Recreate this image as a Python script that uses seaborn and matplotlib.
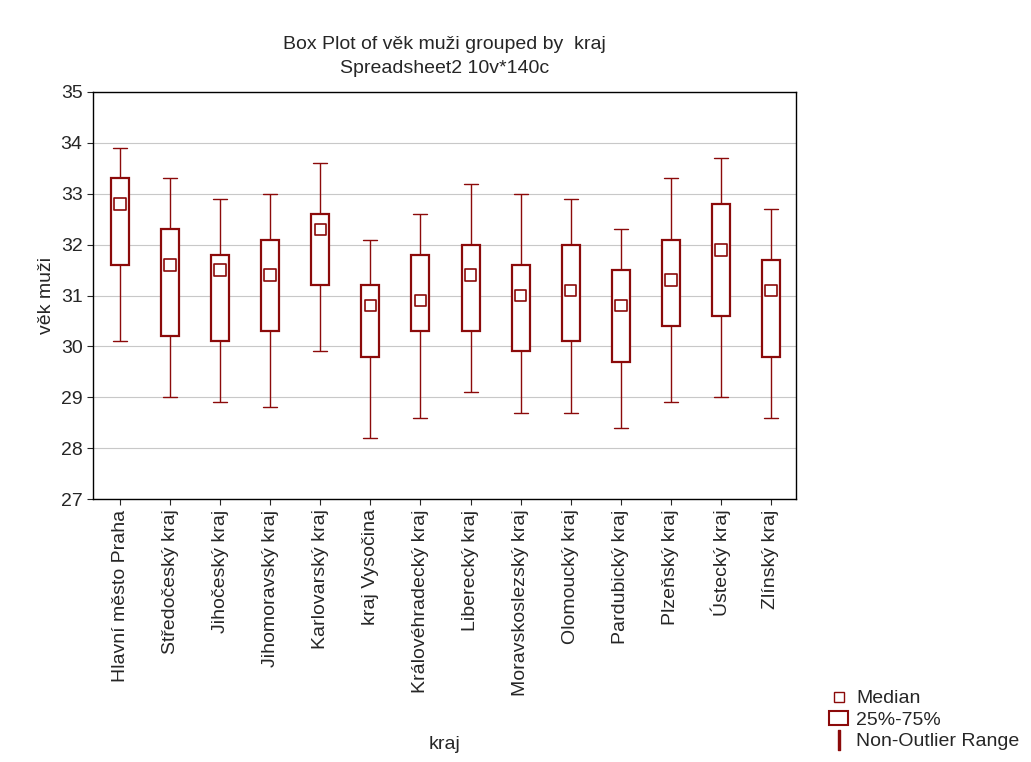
import numpy as np
import pandas as pd
import matplotlib
matplotlib.use("Agg")
import matplotlib.pyplot as plt
import seaborn as sns
from matplotlib.lines import Line2D
from matplotlib.patches import Rectangle

kraje = ["Hlavní město Praha", "Středočeský kraj", "Jihočeský kraj", "Jihomoravský kraj",
         "Karlovarský kraj", "kraj Vysočina", "Královéhradecký kraj", "Liberecký kraj",
         "Moravskoslezský kraj", "Olomoucký kraj", "Pardubický kraj", "Plzeňský kraj",
         "Ústecký kraj", "Zlínský kraj"]
minima = [30.1, 29.0, 28.9, 28.8, 29.9, 28.2, 28.6, 29.1, 28.7, 28.7, 28.4, 28.9, 29.0, 28.6]
q1 = [31.6, 30.2, 30.1, 30.3, 31.2, 29.8, 30.3, 30.3, 29.9, 30.1, 29.7, 30.4, 30.6, 29.8]
median = [32.8, 31.6, 31.5, 31.4, 32.3, 30.8, 30.9, 31.4, 31.0, 31.1, 30.8, 31.3, 31.9, 31.1]
q3 = [33.3, 32.3, 31.8, 32.1, 32.6, 31.2, 31.8, 32.0, 31.6, 32.0, 31.5, 32.1, 32.8, 31.7]
maxima = [33.9, 33.3, 32.9, 33.0, 33.6, 32.1, 32.6, 33.2, 33.0, 32.9, 32.3, 33.3, 33.7, 32.7]

# five points per kraj -> quartiles come out exactly as read
rows = []
for i, k in enumerate(kraje):
    for v in (minima[i], q1[i], median[i], q3[i], maxima[i]):
        rows.append({"kraj": k, "vek": v})
df = pd.DataFrame(rows)
dfm = pd.DataFrame({"kraj": kraje, "vek": median})

col = "#8b0a0a"
sns.set_style("white")
plt.rcParams["font.family"] = ["Liberation Sans", "DejaVu Sans"]

fig = plt.figure(figsize=(10.31, 7.62), dpi=100)
ax = fig.add_axes([93/1031, 1-499/762, (796-93)/1031, (499-92)/762])
sns.boxplot(data=df, x="kraj", y="vek", whis=(0, 100), width=0.36, ax=ax,
            color="white", linecolor=col, linewidth=1.6,
            medianprops={"visible": False},
            whiskerprops={"linewidth": 1}, capprops={"linewidth": 1})
# widen caps a bit
for ln in ax.lines:
    y = ln.get_ydata()
    x = ln.get_xdata()
    if len(y) == 2 and y[0] == y[1] and len(x) == 2:
        c = (x[0] + x[1]) / 2
        ln.set_xdata([c - 0.14, c + 0.14])
sns.scatterplot(data=dfm, x="kraj", y="vek", marker="s", s=70, facecolor="none",
                edgecolor=col, linewidth=1.2, ax=ax, zorder=5)
ax.set_xlim(-0.54, 13.5)
ax.set_ylim(27, 35)
ax.set_yticks(range(27, 36))
ax.yaxis.grid(True, color="#c8c8c8", linewidth=0.8)
ax.set_axisbelow(True)
ax.tick_params(axis="x", rotation=90, labelsize=14, length=4, direction="out", bottom=True)
ax.tick_params(axis="y", labelsize=14, length=4, direction="out", left=True)
for s in ax.spines.values():
    s.set_color("black")
    s.set_linewidth(1)
ax.set_xlabel("kraj", fontsize=14)
ax.xaxis.set_label_coords(0.5, -(736 - 499) / 407, transform=ax.transAxes)
ax.set_ylabel("věk muži", fontsize=14)
ax.set_title("Box Plot of věk muži grouped by  kraj\nSpreadsheet2 10v*140c", fontsize=14,
             pad=14, linespacing=1.5)

handles = [Line2D([], [], marker="s", color=col, markerfacecolor="none", linestyle="none", markersize=7),
           Rectangle((0, 0), 1, 1, facecolor="none", edgecolor=col, linewidth=1.5),
           Line2D([], [], marker="$\\mathrm{I}$", color=col, linestyle="none", markersize=14)]
fig.legend(handles, ["Median", "25%-75%", "Non-Outlier Range"], loc="lower right",
           bbox_to_anchor=(1.0, 0.0), frameon=False, fontsize=14, handlelength=1,
           handletextpad=0.4, labelspacing=0.2, borderaxespad=0.2)
fig.savefig("out.png", dpi=100, facecolor="white")
